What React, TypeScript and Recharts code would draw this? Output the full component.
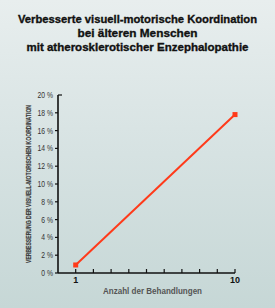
import React from "react";
import { LineChart, Line, XAxis, YAxis } from "recharts";

const treatments = [1, 10];
const improvement = [0.9, 17.8];
const yTicks = [0, 2, 4, 6, 8, 10, 12, 14, 16, 18, 20];
const xTicks = [1, 2, 3, 4, 5, 6, 7, 8, 9, 10];
const xLabeled = [1, 10];
const titleLines = [
  "Verbesserte visuell-motorische Koordination",
  "bei älteren Menschen",
  "mit atherosklerotischer Enzephalopathie",
];
const titleWidths = [239, 120, 222];
const xAxisTitle = "Anzahl der Behandlungen";
const yAxisTitle = "VERBESSERUNG DER VISUELL-MOTORISCHEN KOORDINATION";

const data = treatments.map((t, i) => ({ t, v: improvement[i] }));

const RED = "#ff3a1a";
const FONT = "'Liberation Sans', Arial, sans-serif";

const XTick = (props: any) => {
  const { x, y, payload } = props;
  const show = xLabeled.includes(payload.value);
  return (
    <g>
      <line x1={x} x2={x} y1={y} y2={y - 4} stroke="#111" strokeWidth={1.2} />
      {show && (
        <text x={x} y={y + 10} textAnchor="middle" fontFamily={FONT} fontWeight="bold" fontSize={9} fill="#111">
          {payload.value}
        </text>
      )}
    </g>
  );
};

const YTick = (props: any) => {
  const { x, y, payload } = props;
  const top = payload.value === 20;
  return (
    <g>
      <line x1={x} x2={top ? x + 4 : x - 3} y1={y} y2={y} stroke="#111" strokeWidth={1.2} />
      <g transform={`translate(${x - 5},${y + 3}) scale(0.8,1)`}>
        <text x={0} y={0} textAnchor="end" fontFamily={FONT} fontSize={8.5} fill="#333">
          {`${payload.value} %`}
        </text>
      </g>
    </g>
  );
};

const Square = (props: any) => {
  const { cx, cy } = props;
  if (cx == null || cy == null) return null;
  return <rect x={cx - 2.5} y={cy - 2.5} width={5} height={5} fill={RED} />;
};

export default function App() {
  return (
    <div
      style={{
        position: "absolute",
        left: 0,
        top: 0,
        width: 275,
        height: 308,
        background: "linear-gradient(180deg, #e8eeee 0%, #d6e2e2 50%, #c6d7d6 100%)",
        overflow: "hidden",
      }}
    >
      <div style={{ position: "absolute", left: 0, top: 0 }}>
        <LineChart width={275} height={308} data={data} margin={{ top: 95, right: 40, bottom: 15, left: 0 }}>
          <XAxis
            dataKey="t"
            type="number"
            domain={[0, 10]}
            ticks={xTicks}
            interval={0}
            tickSize={0}
            tickMargin={0}
            height={20}
            tick={<XTick />}
            axisLine={{ stroke: "#111", strokeWidth: 1.6 }}
            tickLine={false}
          />
          <YAxis
            type="number"
            domain={[0, 20]}
            ticks={yTicks}
            interval={0}
            width={58}
            tickSize={0}
            tickMargin={0}
            tick={<YTick />}
            axisLine={{ stroke: "#111", strokeWidth: 1.6 }}
            tickLine={false}
          />
          <Line
            type="linear"
            dataKey="v"
            stroke={RED}
            strokeWidth={2}
            dot={<Square />}
            activeDot={false}
            isAnimationActive={false}
          />
        </LineChart>
      </div>
      <svg width={275} height={308} style={{ position: "absolute", left: 0, top: 0, pointerEvents: "none" }}>
        {titleLines.map((line, i) => (
          <text
            key={i}
            x={137.5}
            y={22.5 + i * 14.3}
            textAnchor="middle"
            fontFamily={FONT}
            fontWeight="bold"
            fontSize={11.5}
            fill="#111"
            stroke="#111"
            strokeWidth={0.35}
            textLength={titleWidths[i]}
            lengthAdjust="spacingAndGlyphs"
          >
            {line}
          </text>
        ))}
        <text
          x={152.5}
          y={293.5}
          textAnchor="middle"
          fontFamily={FONT}
          fontWeight="bold"
          fontSize={9}
          fill="#555"
          textLength={99}
          lengthAdjust="spacingAndGlyphs"
        >
          {xAxisTitle}
        </text>
        <text
          transform="translate(31,184) rotate(-90)"
          x={0}
          y={0}
          textAnchor="middle"
          fontFamily={FONT}
          fontWeight="bold"
          fontSize={8}
          fill="#3a3a3a"
          stroke="#3a3a3a"
          strokeWidth={0.2}
          textLength={158}
          lengthAdjust="spacingAndGlyphs"
        >
          {yAxisTitle}
        </text>
      </svg>
    </div>
  );
}
